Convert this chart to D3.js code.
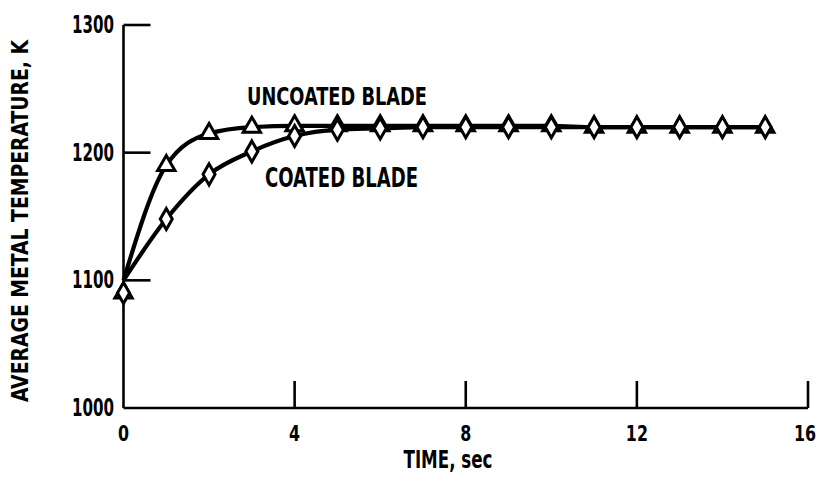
<!DOCTYPE html>
<html>
<head>
<meta charset="utf-8">
<script src="https://cdn.jsdelivr.net/npm/d3@7"></script>
<style>
  html, body { margin: 0; padding: 0; background: #fff; }
  svg { display: block; }
  text { font-family: "Liberation Sans Narrow", "DejaVu Sans Condensed", "Liberation Sans", sans-serif; font-weight: bold; fill: #000; }
</style>
</head>
<body>
<svg id="chart" width="822" height="488"></svg>
<script>
// ---- data ----
const times = [0, 1, 2, 3, 4, 5, 6, 7, 8, 9, 10, 11, 12, 13, 14, 15];
const uncoated = [1090, 1190, 1215, 1220, 1221, 1221, 1221, 1221, 1221, 1221, 1221, 1220, 1220, 1220, 1220, 1220];
const coated   = [1090, 1148, 1183, 1201, 1213, 1218, 1219, 1220, 1220, 1220, 1220, 1220, 1220, 1220, 1220, 1220];
const startTemp = 1100; // both curves leave the axis here
const xTicks = [0, 4, 8, 12, 16];
const yTicks = [1000, 1100, 1200, 1300];
const xTitle = "TIME, sec";
const yTitle = "AVERAGE METAL TEMPERATURE, K";
const seriesLabels = ["UNCOATED BLADE", "COATED BLADE"];

// ---- layout ----
const svg = d3.select("#chart");
const x = d3.scaleLinear().domain([0, 16]).range([123.5, 808]);
const y = d3.scaleLinear().domain([1000, 1300]).range([408, 25]);
const tickLen = 27;

// axes lines
const axisG = svg.append("g").attr("stroke", "#000").attr("stroke-width", 2.6).attr("fill", "none");
axisG.append("line").attr("x1", x(0)).attr("x2", x(0)).attr("y1", y(1300)).attr("y2", y(1000));
axisG.append("line").attr("x1", x(0)).attr("x2", x(16)).attr("y1", y(1000)).attr("y2", y(1000));
// inward ticks
xTicks.filter(d => d > 0).forEach(d => {
  axisG.append("line").attr("x1", x(d)).attr("x2", x(d)).attr("y1", y(1000)).attr("y2", y(1000) - tickLen);
});
yTicks.filter(d => d > 1000).forEach(d => {
  axisG.append("line").attr("x1", x(0)).attr("x2", x(0) + tickLen).attr("y1", y(d)).attr("y2", y(d));
});

// tick labels (horizontally condensed via scale so boxes stay exact)
svg.append("g").selectAll("text").data(xTicks).join("text")
  .attr("transform", d => `translate(${Math.min(x(d), 805)},441) scale(0.8,1)`)
  .attr("text-anchor", "middle").attr("font-size", 22)
  .text(d => d);
svg.append("g").selectAll("text").data(yTicks).join("text")
  .attr("transform", d => `translate(114,${y(d) + 8}) scale(0.7,1)`)
  .attr("text-anchor", "end").attr("font-size", 24)
  .text(d => d);

// axis titles
svg.append("text").attr("x", 448).attr("y", 468).attr("text-anchor", "middle")
  .attr("font-size", 25).attr("textLength", 89).attr("lengthAdjust", "spacingAndGlyphs")
  .text(xTitle);
svg.append("text").attr("transform", "translate(28,221) rotate(-90)")
  .attr("text-anchor", "middle").attr("font-size", 23)
  .attr("textLength", 362).attr("lengthAdjust", "spacingAndGlyphs")
  .text(yTitle);

// curves
const line = d3.line().x(d => x(d[0])).y(d => y(d[1])).curve(d3.curveMonotoneX);
const mkPts = vals => [[0, startTemp]].concat(times.slice(1).map((t, i) => [t, vals[i + 1]]));
[coated, uncoated].forEach(vals => {
  svg.append("path").attr("d", line(mkPts(vals)))
    .attr("fill", "none").attr("stroke", "#000").attr("stroke-width", 4.2)
    .attr("stroke-linejoin", "round");
});

// markers
const tri = d3.symbol().type(d3.symbolTriangle).size(130);
svg.append("g").selectAll("path").data(times).join("path")
  .attr("transform", (t, i) => `translate(${x(t)},${y(uncoated[i])})`)
  .attr("d", tri()).attr("fill", "#fff").attr("stroke", "#000").attr("stroke-width", 3);
svg.append("g").selectAll("path").data(times).join("path")
  .attr("transform", (t, i) => `translate(${x(t)},${y(coated[i])})`)
  .attr("d", "M0,-10.5L6,0L0,10.5L-6,0Z").attr("fill", "#fff").attr("stroke", "#000").attr("stroke-width", 3);

// series labels
svg.append("text").attr("x", 247).attr("y", 105).attr("font-size", 24)
  .attr("textLength", 180).attr("lengthAdjust", "spacingAndGlyphs")
  .text(seriesLabels[0]);
svg.append("text").attr("x", 265).attr("y", 187).attr("font-size", 27)
  .attr("textLength", 153).attr("lengthAdjust", "spacingAndGlyphs")
  .text(seriesLabels[1]);
</script>
</body>
</html>
